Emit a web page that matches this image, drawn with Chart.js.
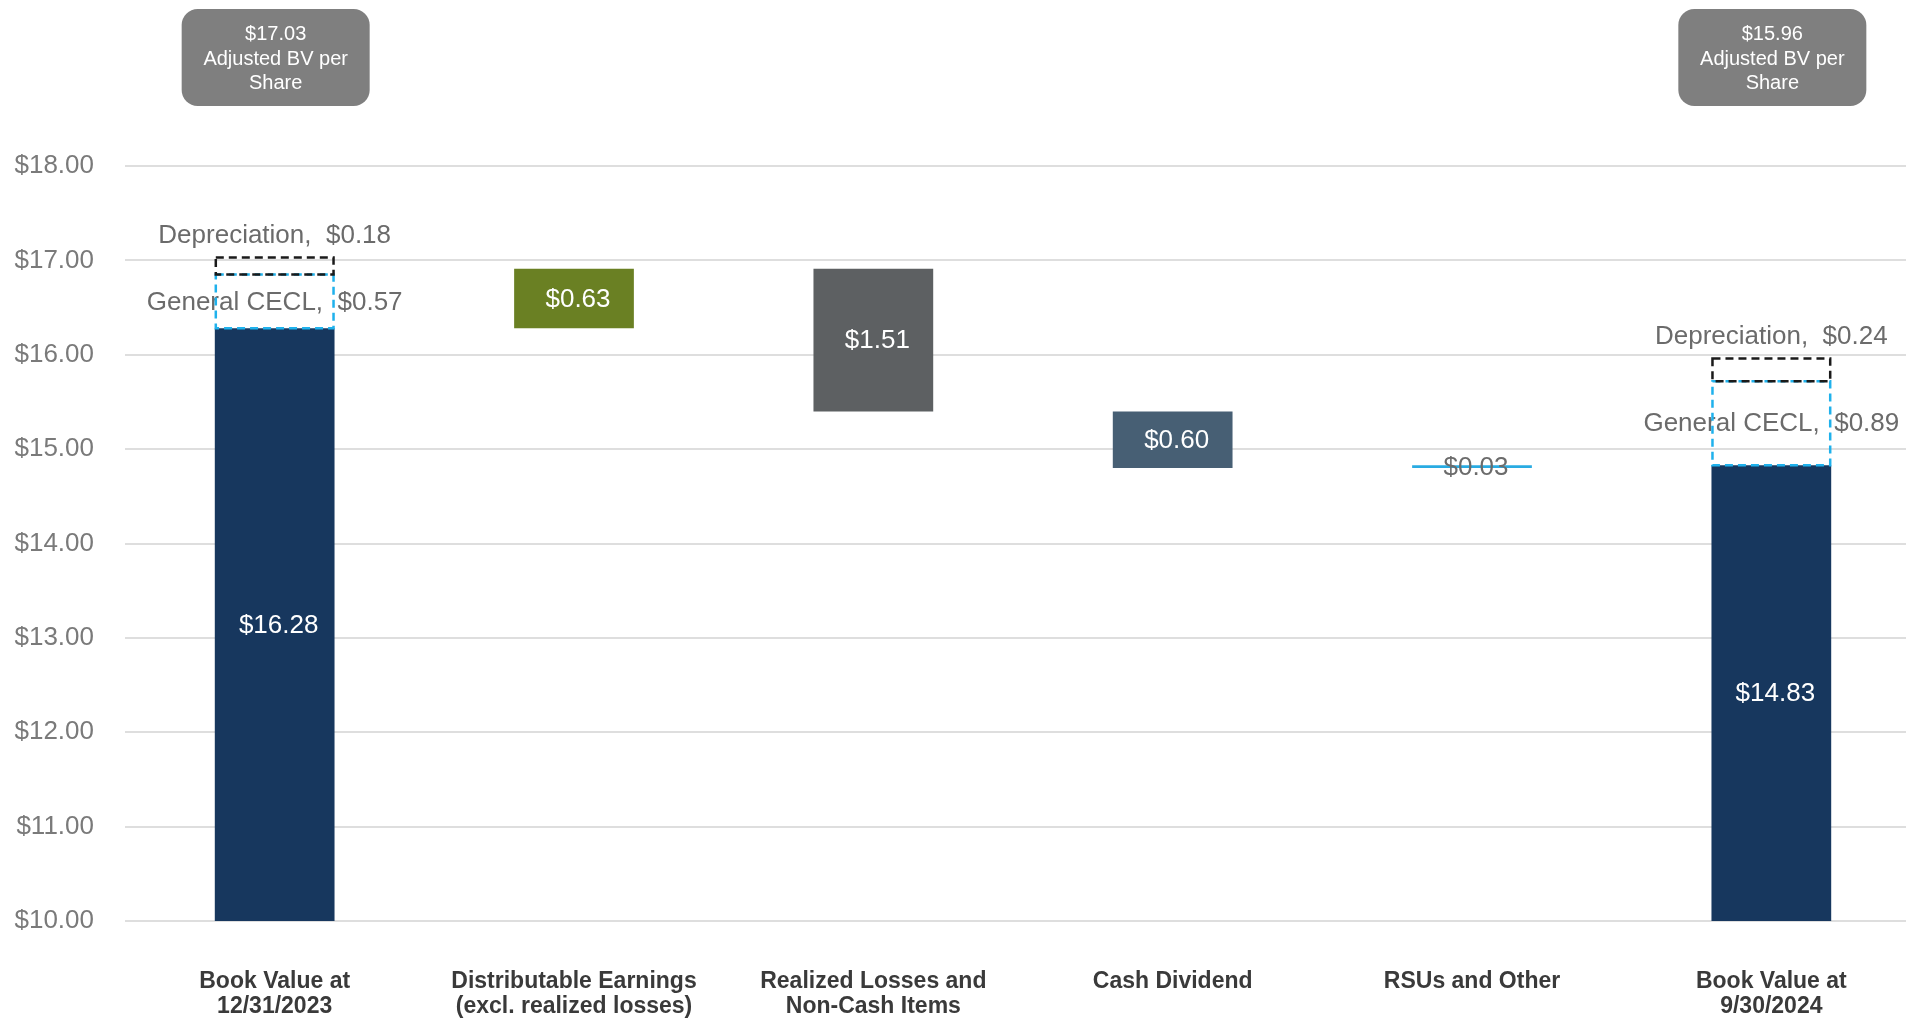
<!DOCTYPE html>
<html>
<head>
<meta charset="utf-8">
<title>Book Value per Share Bridge</title>
<script src="https://cdn.jsdelivr.net/npm/chart.js@4/dist/chart.umd.min.js"></script>
<style>
  html, body { margin: 0; padding: 0; background: #ffffff; overflow: hidden; }
  canvas { display: block; }
</style>
</head>
<body>
<canvas id="bridge" width="1921" height="1018"></canvas>
<script>
// ---- Data -------------------------------------------------------------
const categories = [
  ['Book Value at', '12/31/2023'],
  ['Distributable Earnings', '(excl. realized losses)'],
  ['Realized Losses and', 'Non-Cash Items'],
  ['Cash Dividend'],
  ['RSUs and Other'],
  ['Book Value at', '9/30/2024']
];
const bookValueStart = 16.28;
const bookValueEnd = 14.83;
const bridgeChanges = [0.63, -1.51, -0.60, 0.03];   // steps between the two book values
const generalCecl = [0.57, 0.89];                    // per share, start / end
const depreciation = [0.18, 0.24];                   // per share, start / end
const adjustedBV = [17.03, 15.96];                   // adjusted book value per share, start / end
const yTicks = { min: 10, max: 18, step: 1 };

const barColors = ['#17375E', '#6A8023', '#5D6062', '#475F74', '#29ABE2', '#17375E'];

// ---- Build floating ranges -------------------------------------------
const floating = [[yTicks.min, bookValueStart]];
let running = bookValueStart;
bridgeChanges.forEach(ch => {
  const next = +(running + ch).toFixed(2);
  floating.push([Math.min(running, next), Math.max(running, next)]);
  running = next;
});
floating.push([yTicks.min, bookValueEnd]);

const valueText = [bookValueStart, ...bridgeChanges.map(Math.abs), bookValueEnd]
  .map(v => '$' + v.toFixed(2));

const endIdx = categories.length - 1;
const ceclRanges = categories.map(() => null);
const deprRanges = categories.map(() => null);
[[0, bookValueStart, 0], [endIdx, bookValueEnd, 1]].forEach(([i, base, k]) => {
  const top1 = +(base + generalCecl[k]).toFixed(2);
  ceclRanges[i] = [base, top1];
  deprRanges[i] = [top1, +(top1 + depreciation[k]).toFixed(2)];
});

const FONT = "'Liberation Sans', Arial, Helvetica, sans-serif";

// ---- Overlay: value labels, dashed reserve boxes, adjusted BV callouts ---
const bridgeOverlay = {
  id: 'bridgeOverlay',
  afterDatasetsDraw(chart) {
    const ctx = chart.ctx;
    const mainMeta = chart.getDatasetMeta(0);
    const ceclMeta = chart.getDatasetMeta(1);
    const deprMeta = chart.getDatasetMeta(2);

    const rectOf = el => {
      const p = el.getProps(['x', 'y', 'base', 'width'], true);
      return {
        left: p.x - p.width / 2, right: p.x + p.width / 2,
        top: Math.min(p.y, p.base), bottom: Math.max(p.y, p.base), cx: p.x
      };
    };

    ctx.save();
    // values on the bars
    ctx.textAlign = 'center';
    ctx.textBaseline = 'middle';
    ctx.font = '26px ' + FONT;
    mainMeta.data.forEach((el, i) => {
      const r = rectOf(el);
      ctx.fillStyle = (r.bottom - r.top) < 20 ? '#6b6b6b' : '#ffffff';
      ctx.fillText(valueText[i], r.cx + 4, (r.top + r.bottom) / 2 + 1);
    });

    // reserve labels
    ctx.fillStyle = '#6b6b6b';
    [0, endIdx].forEach((i, k) => {
      const rc = rectOf(ceclMeta.data[i]);
      const rd = rectOf(deprMeta.data[i]);
      ctx.fillText('General CECL,  $' + generalCecl[k].toFixed(2), rc.cx, (rc.top + rc.bottom) / 2 + 1);
      ctx.fillText('Depreciation,  $' + depreciation[k].toFixed(2), rd.cx, rd.top - 22);
    });

    // dashed outlines for the reserves
    ctx.lineWidth = 2.5;
    ctx.setLineDash([8, 5]);
    [[ceclMeta, '#1FB1EC'], [deprMeta, '#1a1a1a']].forEach(([meta, color]) => {
      ctx.strokeStyle = color;
      [0, endIdx].forEach(i => {
        const r = rectOf(meta.data[i]);
        ctx.strokeRect(r.left + 1, r.top, r.right - r.left - 2, r.bottom - r.top);
      });
    });
    ctx.setLineDash([]);

    // adjusted book value callouts
    [0, endIdx].forEach((i, k) => {
      const cx = rectOf(mainMeta.data[i]).cx + 1;
      const w = 188, h = 97, top = 9;
      ctx.fillStyle = '#7F7F7F';
      ctx.beginPath();
      ctx.roundRect(cx - w / 2, top, w, h, 16);
      ctx.fill();
      ctx.fillStyle = '#ffffff';
      ctx.font = '20px ' + FONT;
      ctx.fillText('$' + adjustedBV[k].toFixed(2), cx, top + 25);
      ctx.fillText('Adjusted BV per', cx, top + 50);
      ctx.fillText('Share', cx, top + 74);
    });
    ctx.restore();
  }
};

// ---- Chart ------------------------------------------------------------
new Chart(document.getElementById('bridge'), {
  type: 'bar',
  data: {
    labels: categories,
    datasets: [
      {
        label: 'Book value bridge',
        data: floating,
        backgroundColor: barColors,
        borderWidth: 0,
        grouped: false,
        order: 2
      },
      {
        label: 'General CECL',
        data: ceclRanges,
        backgroundColor: 'rgba(0,0,0,0)',
        borderWidth: 0,
        grouped: false,
        order: 1
      },
      {
        label: 'Depreciation',
        data: deprRanges,
        backgroundColor: 'rgba(0,0,0,0)',
        borderWidth: 0,
        grouped: false,
        order: 0
      }
    ]
  },
  options: {
    responsive: false,
    animation: false,
    events: [],
    categoryPercentage: 0.4,
    barPercentage: 1.0,
    layout: { padding: { top: 166, left: 0, right: 0, bottom: 0 } },
    plugins: {
      legend: { display: false },
      tooltip: { enabled: false }
    },
    scales: {
      x: {
        grid: { display: false, drawTicks: false },
        border: { display: false },
        ticks: {
          color: '#3a3a3a',
          font: { family: FONT, size: 23, weight: 'bold', lineHeight: 1.09 },
          padding: 48,
          maxRotation: 0,
          autoSkip: false
        },
        afterFit(scale) { scale.height = 97; }
      },
      y: {
        min: yTicks.min,
        max: yTicks.max,
        grid: { color: '#dedede', lineWidth: 2, drawTicks: false },
        border: { display: false },
        ticks: {
          stepSize: yTicks.step,
          color: '#7a7a7a',
          font: { family: FONT, size: 26 },
          padding: 31,
          callback: v => '$' + Number(v).toFixed(2)
        },
        afterFit(scale) { scale.width = 125; }
      }
    }
  },
  plugins: [bridgeOverlay]
});
</script>
</body>
</html>
